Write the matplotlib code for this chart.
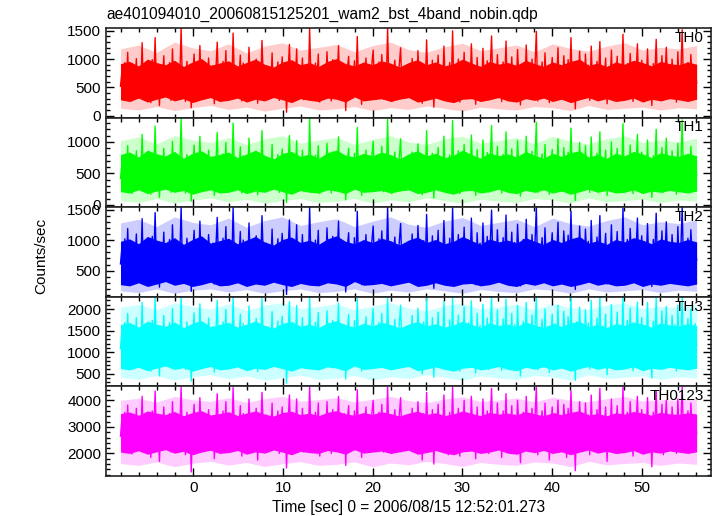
import numpy as np
import matplotlib
matplotlib.use("Agg")
import matplotlib.pyplot as plt
from matplotlib.ticker import MultipleLocator

plt.rcParams['font.family'] = ['Liberation Sans', 'DejaVu Sans']

title = "ae401094010_20060815125201_wam2_bst_4band_nobin.qdp"
xlabel = "Time [sec] 0 = 2006/08/15 12:52:01.273"
ylabel = "Counts/sec"
bands = ["TH0", "TH1", "TH2", "TH3", "TH0123"]
t_start, t_stop = -8.1, 56.1

# light curves (counts/sec), one value per bin
th0 = [
    520, 780, 310, 940, 450, 1120, 380, 690, 260, 850, 540, 1010, 330, 720, 470, 1290, 290, 610, 880, 400,
    760, 230, 990, 560, 1380, 420, 670, 180, 820, 510, 1060, 350, 730, 600, 940, 270, 1180, 480, 640, 310,
    870, 560, 1550, 390, 700, 250, 960, 530, 810, 140, 690, 1090, 420, 780, 360, 1240, 500, 620, 300, 910,
    450, 1020, 610, 330, 880, 210, 740, 1300, 470, 590, 380, 960, 520, 1150, 290, 680, 830, 410, 1460, 560,
    340, 790, 620, 1070, 260, 930, 480, 710, 390, 1210, 540, 300, 860, 650, 1000, 220, 770, 440, 1330, 590,
    310, 880, 520, 690, 410, 1110, 350, 760, 600, 950, 270, 640, 1040, 460, 820, 60, 730, 1260, 500, 370,
    900, 560, 1180, 330, 710, 480, 1020, 280, 640, 840, 400, 1550, 520, 760, 300, 930, 610, 1090, 240, 690,
    470, 860, 360, 1130, 580, 720, 260, 990, 440, 800, 620, 1240, 350, 670, 510, 900, 90, 780, 1050, 420,
    650, 310, 970, 540, 1400, 380, 710, 200, 860, 600, 1020, 450, 730, 300, 880, 1160, 490, 620, 340, 950,
    560, 1080, 290, 740, 470, 1550, 410, 830, 250, 690, 980, 520, 360, 870, 1200, 430, 760, 590, 310, 640,
    700, 350, 1010, 480, 830, 290, 1150, 560, 640, 220, 900, 430, 1340, 510, 760, 380, 980, 150, 720, 600,
    1070, 320, 810, 460, 1230, 540, 690, 270, 940, 410, 1500, 360, 770, 620, 1000, 240, 850, 500, 1120, 330,
    680, 910, 420, 1270, 570, 740, 200, 1030, 470, 860, 310, 1190, 630, 520, 970, 280, 790, 1410, 440, 660,
    350, 1080, 590, 820, 250, 950, 510, 1320, 380, 710, 580, 1040, 300, 870, 460, 1170, 610, 190, 780, 920,
    430, 1250, 540, 680, 340, 1000, 470, 810, 1490, 260, 730, 620, 950, 390, 1110, 500, 840, 230, 690, 1030,
    370, 880, 570, 1200, 320, 760, 450, 1060, 650, 280, 990, 530, 1380, 410, 720, 120, 910, 580, 1140, 460,
    800, 340, 1090, 610, 890, 270, 1230, 490, 700, 400, 960, 560, 1310, 330, 850, 640, 1020, 210, 770, 520,
    1160, 390, 740, 600, 1050, 290, 860, 480, 1440, 350, 690, 920, 440, 1100, 560, 250, 830, 700, 1270, 410,
    620, 980, 300, 790, 540, 1180, 430, 750, 180, 920, 660, 1350, 380, 810, 490, 1060, 270, 640, 1210, 530,
    720, 360, 1000, 580, 860, 240, 1130, 470, 690, 1520, 400, 780, 550, 940, 320, 1080, 610, 450, 870, 580,
]
th1 = [
    420, 650, 230, 780, 350, 940, 290, 560, 180, 710, 400, 860, 260, 610, 380, 1120, 220, 500, 730, 310,
    600, 170, 820, 440, 1250, 330, 540, 120, 690, 410, 900, 280, 620, 470, 790, 200, 1010, 370, 520, 240,
    720, 450, 1380, 300, 570, 190, 800, 420, 680, 60, 560, 950, 330, 640, 280, 1090, 390, 510, 230, 760,
    350, 870, 490, 250, 730, 150, 610, 1150, 370, 480, 290, 810, 410, 990, 220, 560, 700, 320, 1300, 450,
    260, 660, 500, 920, 190, 780, 380, 590, 300, 1060, 430, 230, 720, 530, 850, 160, 640, 340, 1180, 470,
    240, 740, 410, 570, 320, 960, 270, 630, 480, 800, 200, 520, 890, 360, 690, 40, 600, 1100, 390, 290,
    760, 450, 1020, 250, 590, 380, 870, 210, 520, 710, 310, 1370, 410, 640, 230, 790, 500, 940, 180, 570,
    370, 720, 280, 980, 470, 600, 190, 840, 350, 670, 500, 1080, 270, 550, 400, 760, 80, 650, 900, 330,
    540, 240, 820, 430, 1230, 290, 590, 150, 720, 480, 870, 350, 610, 220, 740, 1010, 390, 510, 260, 800,
    450, 930, 210, 620, 370, 1360, 320, 700, 180, 570, 840, 410, 280, 730, 1050, 340, 640, 470, 230, 530,
    570, 260, 840, 390, 690, 220, 970, 460, 520, 160, 760, 340, 1180, 410, 630, 290, 820, 110, 590, 480,
    910, 250, 670, 360, 1090, 430, 560, 200, 790, 320, 1340, 280, 640, 500, 860, 180, 700, 400, 960, 260,
    550, 770, 330, 1110, 460, 610, 150, 880, 370, 720, 240, 1030, 510, 420, 830, 210, 660, 1260, 350, 540,
    280, 930, 480, 690, 190, 800, 410, 1160, 300, 580, 470, 890, 230, 730, 370, 1020, 500, 140, 650, 780,
    340, 1090, 440, 560, 260, 850, 380, 680, 1310, 200, 600, 510, 810, 310, 960, 400, 710, 170, 570, 880,
    290, 740, 460, 1050, 250, 630, 360, 910, 540, 210, 840, 430, 1220, 320, 600, 70, 770, 470, 990, 370,
    670, 270, 940, 500, 750, 200, 1080, 390, 580, 310, 820, 450, 1160, 260, 710, 520, 870, 150, 640, 420,
    1000, 300, 620, 490, 900, 220, 720, 380, 1290, 270, 570, 780, 350, 950, 450, 180, 690, 580, 1120, 320,
    510, 840, 230, 660, 440, 1030, 340, 620, 120, 780, 540, 1200, 300, 680, 390, 910, 200, 530, 1060, 430,
    600, 280, 860, 470, 720, 170, 980, 380, 570, 1350, 310, 650, 450, 800, 240, 930, 500, 360, 740, 470,
]
th2 = [
    610, 880, 390, 1020, 520, 1190, 440, 760, 330, 930, 600, 1100, 400, 790, 540, 1350, 360, 680, 950, 470,
    830, 300, 1060, 620, 1450, 490, 740, 230, 890, 570, 1130, 420, 800, 660, 1010, 340, 1250, 550, 710, 380,
    940, 630, 1540, 460, 770, 320, 1030, 600, 880, 160, 760, 1160, 490, 850, 430, 1310, 570, 690, 370, 980,
    520, 1090, 680, 400, 950, 280, 810, 1370, 540, 660, 450, 1030, 590, 1220, 360, 750, 900, 480, 1530, 630,
    410, 860, 690, 1140, 330, 1000, 550, 780, 460, 1280, 610, 370, 930, 720, 1070, 290, 840, 510, 1400, 660,
    380, 950, 590, 760, 480, 1180, 420, 830, 670, 1020, 340, 710, 1110, 530, 890, 110, 800, 1330, 570, 440,
    970, 630, 1250, 400, 780, 550, 1090, 350, 710, 910, 470, 1540, 590, 830, 370, 1000, 680, 1160, 310, 760,
    540, 930, 430, 1200, 650, 790, 330, 1060, 510, 870, 690, 1310, 420, 740, 580, 970, 150, 850, 1120, 490,
    720, 380, 1040, 610, 1470, 450, 780, 270, 930, 670, 1090, 520, 800, 370, 950, 1230, 560, 690, 410, 1020,
    630, 1150, 360, 810, 540, 1540, 480, 900, 320, 760, 1050, 590, 430, 940, 1270, 500, 830, 660, 380, 710,
    790, 440, 1100, 570, 920, 370, 1240, 650, 730, 290, 990, 520, 1420, 600, 850, 460, 1070, 210, 810, 690,
    1160, 400, 900, 550, 1320, 630, 780, 340, 1030, 500, 1530, 440, 860, 710, 1090, 310, 940, 590, 1210, 410,
    770, 1000, 510, 1360, 660, 830, 270, 1120, 560, 950, 390, 1280, 720, 610, 1060, 350, 880, 1490, 530, 750,
    430, 1170, 680, 910, 320, 1040, 600, 1410, 470, 800, 670, 1130, 380, 960, 550, 1260, 700, 250, 870, 1010,
    520, 1340, 630, 770, 420, 1090, 560, 900, 1540, 330, 820, 710, 1040, 480, 1200, 590, 930, 300, 780, 1120,
    450, 970, 660, 1290, 400, 850, 540, 1150, 740, 360, 1080, 620, 1470, 500, 810, 190, 1000, 670, 1230, 550,
    890, 420, 1180, 700, 980, 340, 1320, 580, 790, 490, 1050, 650, 1400, 410, 940, 730, 1110, 280, 860, 610,
    1250, 470, 830, 690, 1140, 360, 950, 570, 1520, 430, 780, 1010, 530, 1190, 650, 320, 920, 790, 1360, 500,
    710, 1070, 380, 880, 630, 1270, 520, 840, 240, 1010, 750, 1440, 460, 900, 580, 1150, 340, 730, 1300, 620,
    810, 440, 1090, 670, 950, 310, 1220, 560, 780, 1540, 480, 870, 640, 1030, 400, 1170, 700, 540, 960, 670,
]
th3 = [
    1080, 1520, 720, 1690, 930, 1900, 800, 1300, 610, 1560, 1050, 1800, 740, 1360, 960, 2150, 680, 1190, 1610, 850,
    1420, 560, 1740, 1100, 2280, 890, 1270, 450, 1490, 1010, 1850, 780, 1380, 1150, 1680, 640, 2010, 980, 1240, 700,
    1570, 1110, 2280, 830, 1320, 600, 1700, 1060, 1470, 330, 1300, 1910, 880, 1450, 790, 2120, 1020, 1200, 690, 1630,
    930, 1790, 1190, 740, 1590, 540, 1380, 2200, 960, 1160, 820, 1700, 1040, 1990, 670, 1290, 1510, 870, 2280, 1110,
    750, 1450, 1210, 1880, 620, 1660, 980, 1340, 840, 2070, 1090, 700, 1560, 1270, 1780, 550, 1420, 920, 2250, 1160,
    710, 1590, 1060, 1310, 870, 1940, 770, 1410, 1180, 1720, 640, 1250, 1830, 950, 1500, 280, 1370, 2170, 1010, 800,
    1620, 1120, 2080, 760, 1330, 990, 1800, 680, 1260, 1550, 880, 2280, 1050, 1440, 720, 1690, 1200, 1920, 600, 1330,
    980, 1580, 820, 1960, 1150, 1370, 640, 1740, 960, 1500, 1220, 2140, 790, 1290, 1060, 1640, 380, 1460, 1870, 900,
    1290, 720, 1730, 1100, 2240, 860, 1350, 560, 1580, 1170, 1820, 950, 1400, 700, 1610, 2010, 1030, 1220, 780, 1690,
    1120, 1900, 690, 1430, 990, 2280, 910, 1540, 620, 1330, 1760, 1080, 840, 1620, 2090, 940, 1460, 1180, 730, 1270,
    1360, 780, 1850, 990, 1580, 650, 2020, 1120, 1240, 500, 1700, 920, 2240, 1030, 1450, 820, 1800, 420, 1390, 1150,
    1930, 720, 1510, 950, 2170, 1080, 1300, 610, 1750, 880, 2280, 770, 1430, 1190, 1860, 560, 1610, 1000, 2050, 730,
    1310, 1680, 860, 2190, 1130, 1420, 520, 1900, 970, 1620, 680, 2110, 1220, 1040, 1790, 600, 1500, 2280, 910, 1280,
    760, 1980, 1170, 1560, 580, 1770, 1030, 2230, 820, 1360, 1140, 1900, 670, 1640, 950, 2080, 1210, 450, 1480, 1710,
    890, 2150, 1090, 1320, 740, 1860, 970, 1530, 2280, 590, 1400, 1230, 1760, 840, 2000, 1020, 1590, 530, 1340, 1880,
    800, 1660, 1120, 2090, 700, 1450, 930, 1950, 1270, 620, 1820, 1060, 2260, 870, 1380, 350, 1700, 1140, 2040, 960,
    1510, 740, 1980, 1190, 1670, 610, 2200, 1000, 1350, 850, 1790, 1110, 2280, 720, 1600, 1240, 1880, 480, 1470, 1050,
    2100, 820, 1420, 1170, 1930, 640, 1620, 980, 2280, 760, 1330, 1740, 920, 2020, 1100, 570, 1560, 1350, 2160, 870,
    1210, 1800, 660, 1490, 1080, 2150, 900, 1430, 400, 1720, 1260, 2250, 800, 1540, 1010, 1960, 620, 1250, 2060, 1060,
    1380, 760, 1850, 1130, 1640, 560, 2090, 970, 1320, 2280, 840, 1500, 1090, 1780, 700, 1990, 1190, 930, 1660, 1150,
]
th0123 = [
    2650, 3300, 2150, 3550, 2450, 3820, 2300, 3000, 1980, 3380, 2620, 3700, 2200, 3100, 2500, 4150, 2120, 2820, 3450, 2350,
    3200, 1850, 3600, 2700, 4350, 2380, 2950, 1700, 3250, 2560, 3750, 2250, 3150, 2800, 3500, 2050, 3950, 2600, 2900, 2180,
    3400, 2750, 4500, 2320, 3050, 1950, 3550, 2650, 3250, 1300, 3000, 3850, 2400, 3250, 2280, 4100, 2600, 2850, 2100, 3450,
    2400, 3650, 2850, 2200, 3400, 1800, 3100, 4250, 2480, 2780, 2300, 3600, 2580, 3950, 2080, 2950, 3300, 2350, 4480, 2700,
    2150, 3200, 2900, 3800, 1900, 3500, 2500, 3050, 2300, 4050, 2700, 2120, 3350, 2950, 3700, 1750, 3150, 2450, 4300, 2800,
    2100, 3450, 2650, 3000, 2400, 3900, 2250, 3150, 2850, 3600, 2000, 2950, 3750, 2500, 3300, 1450, 3100, 4200, 2600, 2300,
    3500, 2750, 4050, 2200, 3050, 2600, 3700, 2050, 2950, 3350, 2400, 4500, 2650, 3200, 2150, 3550, 2800, 3900, 1900, 3050,
    2550, 3400, 2300, 3950, 2800, 3100, 2000, 3650, 2500, 3300, 2900, 4150, 2250, 3000, 2650, 3500, 1550, 3200, 3800, 2450,
    2950, 2150, 3600, 2700, 4400, 2350, 3100, 1850, 3400, 2800, 3750, 2450, 3200, 2100, 3450, 4000, 2600, 2900, 2250, 3550,
    2700, 3850, 2050, 3200, 2500, 4500, 2400, 3350, 2000, 3050, 3650, 2600, 2300, 3400, 4100, 2450, 3250, 2850, 2150, 2950,
    3100, 2300, 3700, 2550, 3350, 2150, 3950, 2800, 2950, 1750, 3500, 2450, 4300, 2700, 3200, 2350, 3650, 1600, 3050, 2850,
    3850, 2150, 3250, 2500, 4200, 2750, 3000, 1950, 3550, 2400, 4500, 2250, 3150, 2900, 3700, 1900, 3350, 2600, 4000, 2200,
    2950, 3450, 2350, 4150, 2800, 3100, 1800, 3750, 2550, 3400, 2100, 4050, 2950, 2700, 3600, 2000, 3250, 4450, 2450, 2950,
    2200, 3900, 2900, 3350, 1850, 3600, 2650, 4250, 2300, 3050, 2850, 3800, 2100, 3450, 2600, 4000, 2950, 1650, 3200, 3550,
    2400, 4150, 2800, 3050, 2150, 3700, 2600, 3250, 4500, 1950, 3150, 2950, 3600, 2350, 3900, 2700, 3350, 1750, 3000, 3750,
    2300, 3500, 2850, 4000, 2100, 3200, 2500, 3850, 3050, 1850, 3700, 2750, 4350, 2400, 3100, 1350, 3550, 2900, 3950, 2600,
    3300, 2200, 3900, 2850, 3450, 1950, 4200, 2650, 3100, 2350, 3650, 2800, 4450, 2150, 3350, 2950, 3750, 1700, 3200, 2700,
    4050, 2250, 3150, 2900, 3800, 2000, 3400, 2600, 4500, 2200, 3050, 3550, 2450, 3950, 2750, 1900, 3300, 3100, 4150, 2400,
    2900, 3650, 2050, 3250, 2700, 4100, 2450, 3150, 1500, 3550, 2950, 4350, 2300, 3300, 2650, 3850, 1950, 3000, 4000, 2700,
    3150, 2250, 3750, 2800, 3400, 2000, 4050, 2600, 3050, 4500, 2350, 3250, 2850, 3600, 2150, 3900, 2900, 2500, 3450, 2750,
]

# solid core of each curve (where the dense noise fills the panel), ~1 s steps
th0_lo = [280, 250, 310, 240, 290, 330, 260, 300, 230, 280, 320, 250, 270, 310, 240, 290, 260, 320, 280, 230, 300, 270,
          250, 310, 290, 240, 330, 260, 280, 300, 250, 290, 320, 240, 270, 310, 260, 230, 290, 300, 250, 280, 320, 260,
          240, 300, 270, 310, 250, 290, 230, 280, 320, 260, 300, 250, 270, 310, 240, 290, 260, 300, 280, 250, 290]
th0_hi = [920, 960, 880, 1000, 940, 900, 980, 870, 950, 1010, 890, 930, 970, 880, 940, 1000, 910, 860, 950, 990, 900, 940,
          870, 960, 1010, 920, 880, 950, 900, 970, 930, 860, 940, 990, 900, 950, 880, 920, 1000, 930, 870, 960, 910, 940,
          890, 980, 920, 870, 950, 900, 960, 1000, 890, 930, 870, 950, 910, 980, 940, 880, 960, 920, 900, 950, 910]
th1_lo = [210, 190, 240, 180, 220, 250, 200, 230, 170, 210, 240, 190, 200, 240, 180, 220, 200, 250, 210, 170, 230, 200,
          190, 240, 220, 180, 250, 200, 210, 230, 190, 220, 240, 180, 200, 240, 200, 170, 220, 230, 190, 210, 250, 200,
          180, 230, 200, 240, 190, 220, 170, 210, 250, 200, 230, 190, 200, 240, 180, 220, 200, 230, 210, 190, 220]
th1_hi = [800, 840, 760, 870, 810, 780, 850, 740, 820, 860, 770, 800, 840, 750, 810, 870, 790, 730, 820, 850, 770, 810,
          740, 830, 870, 790, 760, 820, 780, 840, 800, 730, 810, 860, 780, 820, 750, 790, 870, 800, 740, 830, 780, 810,
          760, 850, 790, 740, 820, 770, 830, 860, 760, 800, 740, 820, 780, 850, 810, 750, 830, 790, 770, 820, 780]
th2_lo = [270, 250, 300, 240, 280, 320, 260, 290, 240, 270, 310, 250, 260, 300, 240, 280, 260, 310, 270, 240, 290, 260,
          250, 300, 280, 240, 320, 260, 270, 290, 250, 280, 310, 240, 260, 300, 260, 240, 280, 290, 250, 270, 310, 260,
          240, 290, 260, 300, 250, 280, 240, 270, 310, 260, 290, 250, 260, 300, 240, 280, 260, 290, 270, 250, 280]
th2_hi = [980, 1020, 940, 1060, 1000, 960, 1040, 930, 1010, 1070, 950, 990, 1030, 940, 1000, 1060, 970, 920, 1010, 1050,
          960, 1000, 930, 1020, 1070, 980, 940, 1010, 960, 1030, 990, 920, 1000, 1050, 960, 1010, 940, 980, 1060, 990,
          930, 1020, 970, 1000, 950, 1040, 980, 930, 1010, 960, 1020, 1060, 950, 990, 930, 1010, 970, 1040, 1000, 940,
          1020, 980, 960, 1010, 970]
th3_lo = [620, 590, 650, 570, 630, 680, 600, 640, 560, 620, 670, 590, 610, 660, 570, 630, 600, 670, 620, 560, 640, 610,
          590, 660, 630, 570, 680, 600, 620, 650, 590, 630, 670, 570, 610, 660, 600, 560, 630, 650, 590, 620, 670, 600,
          570, 650, 610, 660, 590, 630, 560, 620, 670, 600, 650, 590, 610, 660, 570, 630, 600, 650, 620, 590, 630]
th3_hi = [1640, 1690, 1580, 1720, 1650, 1600, 1700, 1570, 1670, 1730, 1590, 1640, 1690, 1580, 1650, 1720, 1620, 1560,
          1670, 1710, 1600, 1650, 1570, 1680, 1730, 1630, 1580, 1670, 1610, 1690, 1640, 1560, 1650, 1710, 1610, 1660,
          1580, 1630, 1720, 1640, 1570, 1680, 1620, 1650, 1590, 1700, 1630, 1570, 1660, 1600, 1680, 1720, 1590, 1640,
          1570, 1660, 1620, 1700, 1650, 1580, 1680, 1630, 1610, 1660, 1620]
th0123_lo = [2050, 2000, 2100, 1970, 2060, 2140, 2010, 2080, 1950, 2050, 2120, 2000, 2030, 2110, 1970, 2060, 2010, 2130,
             2050, 1950, 2080, 2030, 2000, 2110, 2060, 1970, 2140, 2010, 2050, 2090, 2000, 2060, 2120, 1970, 2030, 2110,
             2010, 1950, 2060, 2090, 2000, 2050, 2130, 2010, 1970, 2090, 2030, 2110, 2000, 2060, 1950, 2050, 2130, 2010,
             2080, 2000, 2030, 2110, 1970, 2060, 2010, 2090, 2050, 2000, 2060]
th0123_hi = [3500, 3560, 3440, 3600, 3520, 3460, 3580, 3420, 3540, 3610, 3450, 3500, 3570, 3430, 3520, 3600, 3480, 3410,
             3540, 3590, 3460, 3520, 3420, 3550, 3610, 3490, 3440, 3540, 3470, 3570, 3500, 3410, 3520, 3590, 3470, 3530,
             3430, 3490, 3600, 3510, 3420, 3550, 3480, 3520, 3450, 3580, 3490, 3420, 3530, 3460, 3550, 3600, 3450, 3500,
             3420, 3530, 3480, 3580, 3520, 3440, 3550, 3490, 3470, 3530, 3480]

# outer, half-filled fringe of spikes, ~2 s steps
th0_flo = [130, 100, 160, 90, 140, 180, 110, 150, 80, 130, 170, 100, 120, 160, 90, 140, 110, 170, 130, 80, 150, 120,
           100, 160, 140, 90, 180, 110, 130, 150, 100, 140, 120]
th0_fhi = [1180, 1250, 1120, 1300, 1200, 1150, 1270, 1110, 1230, 1290, 1160, 1210, 1260, 1130, 1240, 1300, 1170, 1120,
           1220, 1280, 1150, 1200, 1250, 1130, 1270, 1190, 1140, 1230, 1290, 1160, 1210, 1180, 1240]
th1_flo = [70, 40, 100, 30, 80, 110, 50, 90, 30, 70, 100, 40, 60, 100, 30, 80, 50, 110, 70, 30, 90, 60, 40, 100, 80, 30,
           110, 50, 70, 90, 40, 80, 60]
th1_fhi = [1020, 1080, 970, 1100, 1030, 990, 1070, 960, 1050, 1100, 980, 1030, 1070, 960, 1040, 1100, 1000, 960, 1050,
           1090, 980, 1020, 1070, 970, 1090, 1010, 970, 1050, 1100, 990, 1030, 1000, 1060]
th2_flo = [170, 140, 200, 130, 180, 200, 150, 190, 130, 170, 200, 140, 160, 200, 130, 180, 150, 200, 170, 130, 190, 160,
           140, 200, 180, 130, 200, 150, 170, 190, 140, 180, 160]
th2_fhi = [1280, 1340, 1220, 1380, 1290, 1250, 1360, 1210, 1320, 1380, 1240, 1300, 1350, 1220, 1310, 1380, 1260, 1210,
           1310, 1370, 1240, 1290, 1340, 1220, 1360, 1270, 1230, 1320, 1380, 1250, 1300, 1270, 1330]
th3_flo = [420, 370, 460, 350, 430, 480, 380, 450, 350, 410, 470, 370, 400, 460, 350, 430, 390, 480, 420, 350, 450, 400,
           370, 460, 430, 350, 480, 390, 420, 450, 370, 430, 400]
th3_fhi = [2040, 2110, 1980, 2150, 2060, 2000, 2120, 1970, 2090, 2150, 2010, 2060, 2120, 1980, 2070, 2150, 2020, 1960,
           2080, 2140, 2000, 2050, 2110, 1980, 2130, 2030, 1990, 2090, 2150, 2010, 2060, 2030, 2100]
th0123_flo = [1620, 1550, 1680, 1500, 1630, 1700, 1560, 1660, 1510, 1610, 1690, 1550, 1590, 1680, 1500, 1640, 1570, 1700,
              1620, 1510, 1660, 1590, 1550, 1680, 1640, 1500, 1700, 1570, 1620, 1660, 1550, 1640, 1590]
th0123_fhi = [4000, 4080, 3930, 4150, 4020, 3960, 4100, 3920, 4060, 4150, 3970, 4030, 4100, 3940, 4040, 4150, 3990, 3910,
              4050, 4130, 3960, 4010, 4090, 3940, 4120, 4000, 3950, 4060, 4150, 3970, 4030, 4000, 4080]

series = [th0, th1, th2, th3, th0123]
cores = [(th0_lo, th0_hi), (th1_lo, th1_hi), (th2_lo, th2_hi), (th3_lo, th3_hi), (th0123_lo, th0123_hi)]
fringes = [(th0_flo, th0_fhi), (th1_flo, th1_fhi), (th2_flo, th2_fhi), (th3_flo, th3_fhi), (th0123_flo, th0123_fhi)]
colors = ["#ff0000", "#00ff00", "#0000ff", "#00ffff", "#ff00ff"]
ylims = [(-35, 1550), (-36, 1386), (71, 1538), (207, 2283), (1150, 4524)]
majors = [500, 500, 500, 500, 1000]
minors = [100, 100, 100, 100, 200]

fig, axs = plt.subplots(5, 1, figsize=(7.17, 5.16), dpi=100, sharex=True)
fig.subplots_adjust(left=0.148, right=0.9916, top=0.9457, bottom=0.0775, hspace=0)

for i, ax in enumerate(axs):
    y, c = series[i], colors[i]
    lo, hi = cores[i]
    flo, fhi = fringes[i]
    t = np.linspace(t_start, t_stop, len(y))
    ax.fill_between(np.linspace(t_start, t_stop, len(flo)), flo, fhi, color=c, alpha=0.2, lw=0)
    ax.fill_between(np.linspace(t_start, t_stop, len(lo)), lo, hi, color=c, lw=0)
    ax.plot(t, y, color=c, lw=1.0)
    ax.set_ylim(*ylims[i])
    ax.set_xlim(-9.7, 57.7)
    ax.yaxis.set_major_locator(MultipleLocator(majors[i]))
    ax.yaxis.set_minor_locator(MultipleLocator(minors[i]))
    ax.xaxis.set_major_locator(MultipleLocator(10))
    ax.xaxis.set_minor_locator(MultipleLocator(2))
    ax.tick_params(which='both', direction='in', top=True, right=True, labelsize=11, width=1)
    ax.tick_params(which='major', length=6)
    ax.tick_params(which='minor', length=3)
    for s in ax.spines.values():
        s.set_linewidth(1.2)
        s.set_color('#222222')
    ax.text(0.988, 0.97, bands[i], transform=ax.transAxes, ha='right', va='top', fontsize=11)

axs[-1].set_xlabel(xlabel, fontsize=11.2, labelpad=4)
fig.text(0.058, 0.504, ylabel, rotation=90, ha='center', va='center', fontsize=11)
fig.text(0.149, 0.973, title, ha='left', va='center', fontsize=11.2)

plt.savefig("out.png", dpi=100)
